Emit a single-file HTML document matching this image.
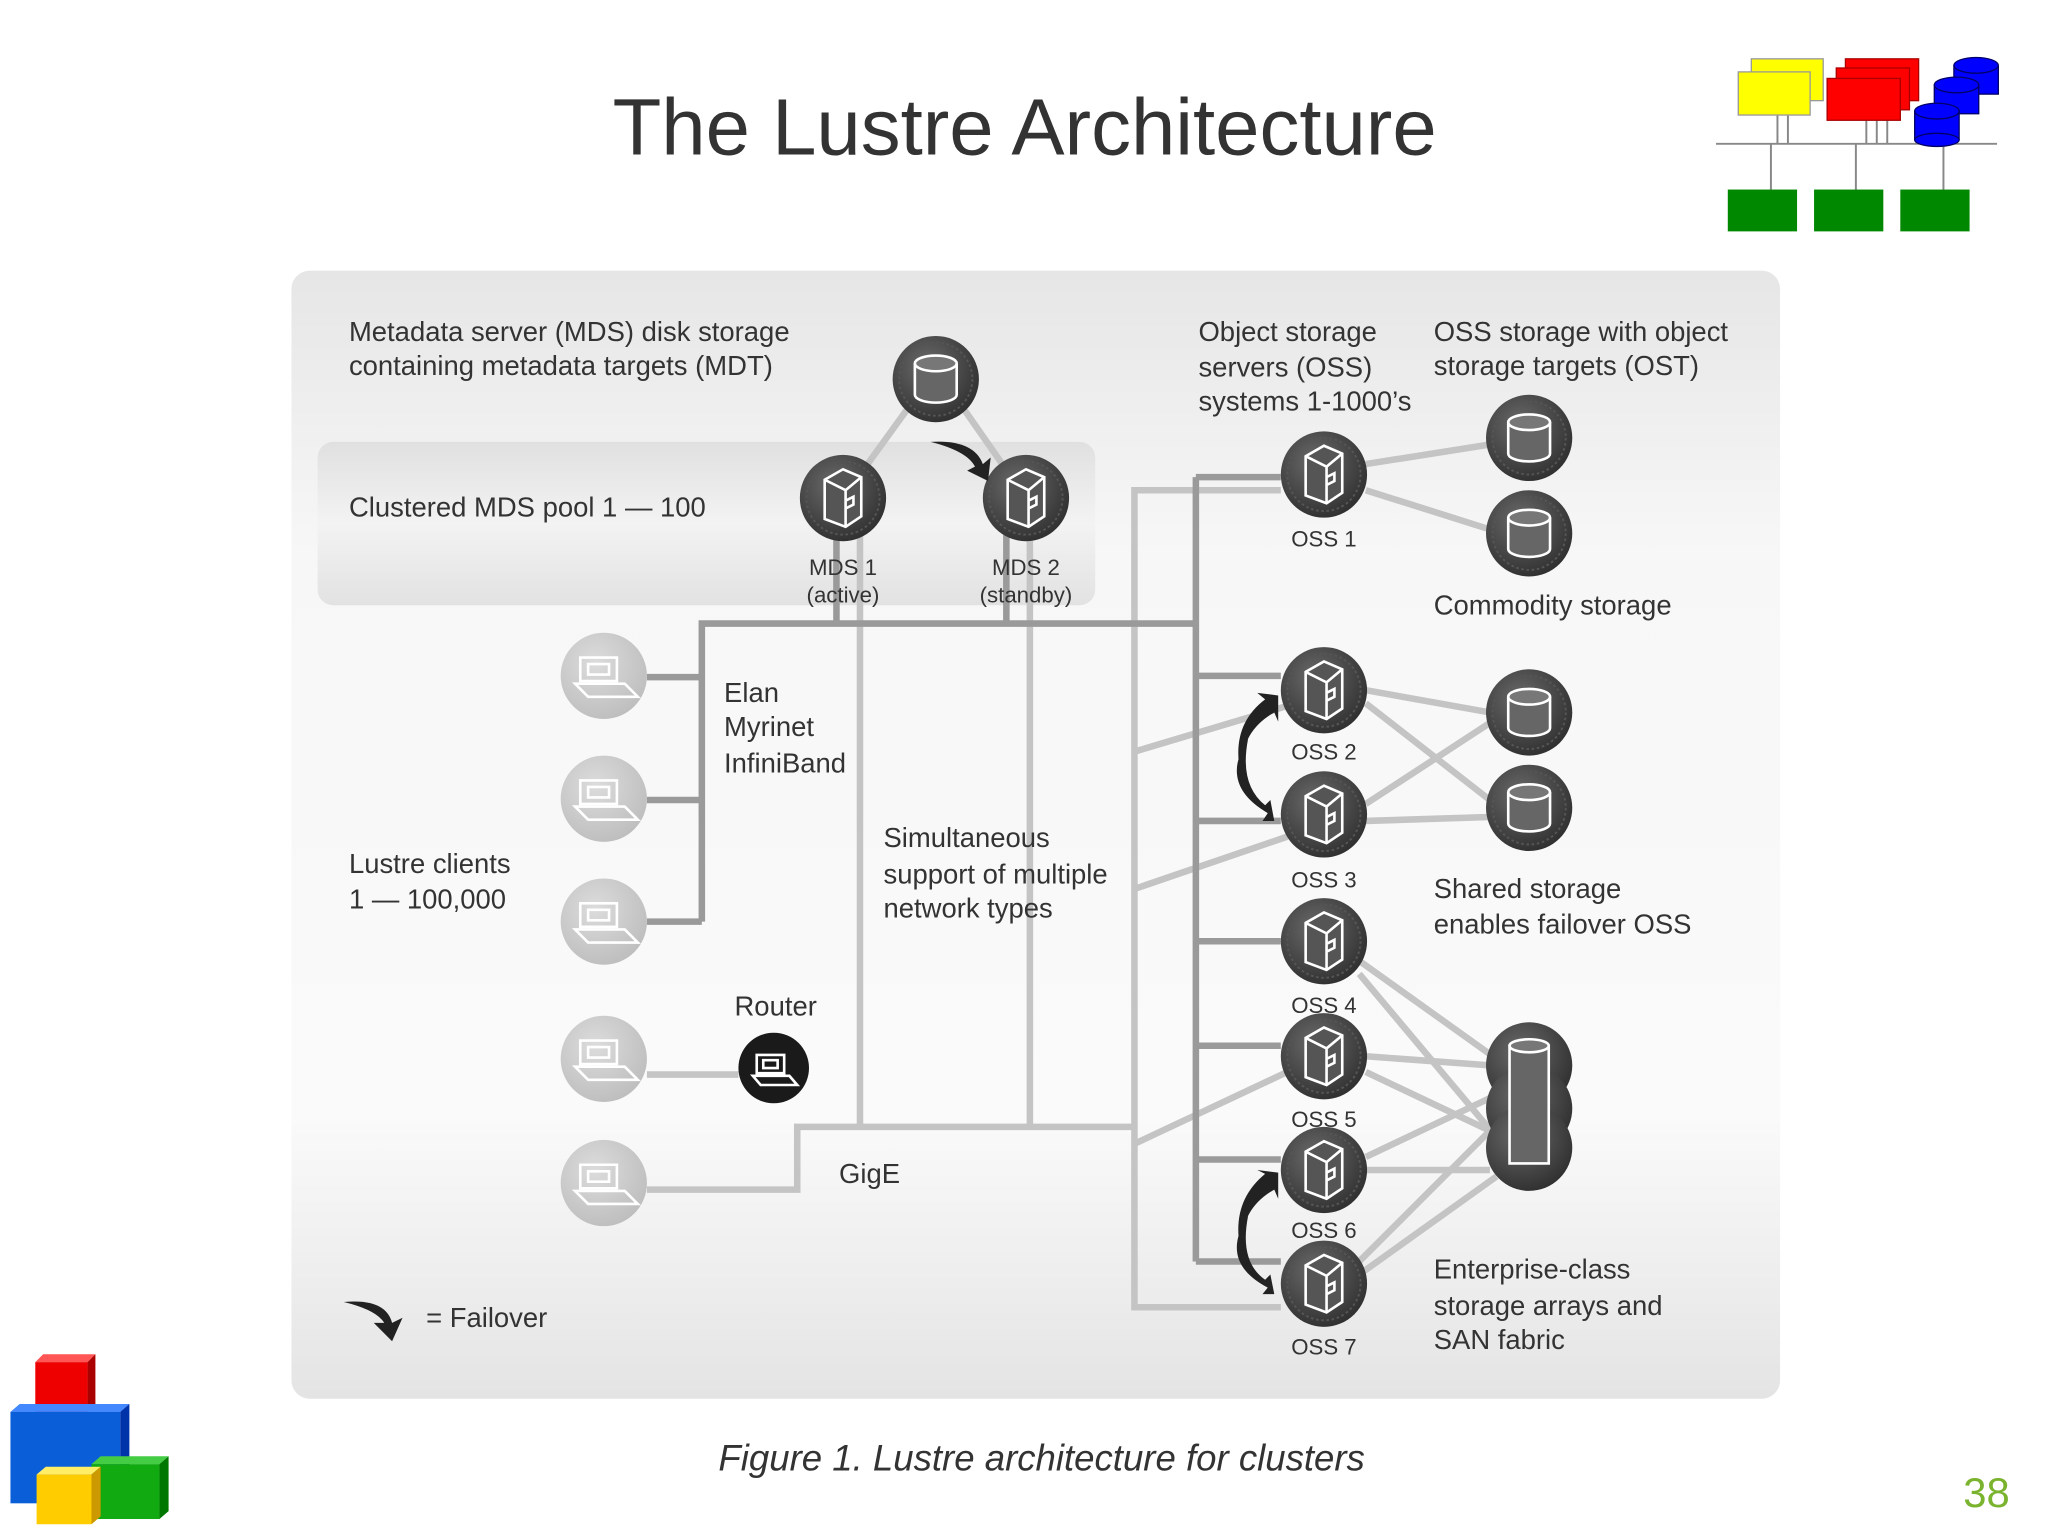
<!DOCTYPE html>
<html><head><meta charset="utf-8"><style>
html,body{margin:0;padding:0;background:#fff;}
svg{display:block;}
text{font-family:"Liberation Sans","DejaVu Sans",sans-serif;fill:#333;}
</style></head><body>
<svg width="2048" height="1536" viewBox="0 0 1567 1175" preserveAspectRatio="none" xmlns="http://www.w3.org/2000/svg">
<defs>
<linearGradient id="pg" x1="0" y1="0" x2="0" y2="1">
<stop offset="0" stop-color="#e6e6e6"/><stop offset="0.25" stop-color="#f7f7f7"/><stop offset="0.75" stop-color="#fafafa"/><stop offset="1" stop-color="#e4e4e4"/></linearGradient>
<linearGradient id="pool" x1="0" y1="0" x2="0" y2="1">
<stop offset="0" stop-color="#e0e0e0"/><stop offset="0.5" stop-color="#f3f3f3"/><stop offset="1" stop-color="#e2e2e2"/></linearGradient>
<radialGradient id="dk" cx="0.4" cy="0.35" r="0.7"><stop offset="0" stop-color="#6a6a6a"/><stop offset="1" stop-color="#2e2e2e"/></radialGradient>
<radialGradient id="lt" cx="0.4" cy="0.35" r="0.7"><stop offset="0" stop-color="#dcdcdc"/><stop offset="1" stop-color="#bdbdbd"/></radialGradient>
<g id="srv"><circle r="33" fill="url(#dk)"/><circle r="28" fill="none" stroke="#555" stroke-width="1.5" stroke-dasharray="2 2"/>
<path d="M-14,-14 L0,-22 L14,-16 L14,14 L2,22 L-14,16 Z" fill="#555" stroke="#fff" stroke-width="2"/>
<path d="M-14,-14 L2,-6 L14,-16 M2,-6 L2,22 M2,2 L8,-1 L8,5 L2,8" fill="none" stroke="#fff" stroke-width="2"/></g>
<g id="dsk"><circle r="33" fill="url(#dk)"/><circle r="28" fill="none" stroke="#555" stroke-width="1.5" stroke-dasharray="2 2"/>
<path d="M-16,-12 L-16,12 A16,6 0 0 0 16,12 L16,-12" fill="#666" stroke="#fff" stroke-width="2"/>
<ellipse cx="0" cy="-12" rx="16" ry="6" fill="#777" stroke="#fff" stroke-width="2"/></g>
<g id="cli"><circle r="33" fill="url(#lt)"/>
<path d="M-18,-14 H10 V4 H-18 Z M-12,-9 H4 V-1 H-12 Z" fill="none" stroke="#fff" stroke-width="2"/>
<path d="M-22,6 H16 L26,16 H-12 Z" fill="none" stroke="#fff" stroke-width="2"/></g>
</defs>

<text x="784" y="118" text-anchor="middle" font-size="61" fill="#333">The Lustre Architecture</text>

<!-- top-right logo -->
<g stroke="#888" stroke-width="1.5" fill="none">
<line x1="1313" y1="110" x2="1528" y2="110"/>
<line x1="1355" y1="110" x2="1355" y2="145"/><line x1="1420" y1="110" x2="1420" y2="145"/><line x1="1487" y1="110" x2="1487" y2="145"/>
<line x1="1360" y1="88" x2="1360" y2="110"/><line x1="1368" y1="88" x2="1368" y2="110"/>
<line x1="1428" y1="92" x2="1428" y2="110"/><line x1="1436" y1="92" x2="1436" y2="110"/><line x1="1444" y1="92" x2="1444" y2="110"/>
</g>
<rect x="1340" y="45" width="55" height="32" fill="#ff0" stroke="#999"/>
<rect x="1330" y="55" width="55" height="33" fill="#ff0" stroke="#999"/>
<rect x="1412" y="45" width="56" height="32" fill="#f00" stroke="#a00"/>
<rect x="1405" y="52" width="56" height="32" fill="#f00" stroke="#a00"/>
<rect x="1398" y="60" width="56" height="32" fill="#f00" stroke="#a00"/>
<g fill="#00f" stroke="#006"><rect x="1495" y="50" width="34" height="22"/><ellipse cx="1512" cy="50" rx="17" ry="6"/>
<rect x="1480" y="65" width="34" height="22"/><ellipse cx="1497" cy="65" rx="17" ry="6"/>
<rect x="1465" y="85" width="34" height="22"/><ellipse cx="1482" cy="85" rx="17" ry="6"/><ellipse cx="1482" cy="107" rx="17" ry="5"/></g>
<rect x="1322" y="145" width="53" height="32" fill="#080"/>
<rect x="1388" y="145" width="53" height="32" fill="#080"/>
<rect x="1454" y="145" width="53" height="32" fill="#080"/>

<!-- panel -->
<rect x="223" y="207" width="1139" height="863" rx="14" fill="url(#pg)"/>
<rect x="243" y="338" width="595" height="125" rx="12" fill="url(#pool)"/>

<!-- light lines -->
<g stroke="#c4c4c4" stroke-width="5" fill="none">
<line x1="700" y1="305" x2="645" y2="381"/><line x1="732" y1="305" x2="785" y2="381"/>
<line x1="658" y1="395" x2="658" y2="862"/><line x1="788" y1="395" x2="788" y2="862"/>
<polyline points="495,910 610,910 610,862 868,862"/>
<line x1="495" y1="822" x2="565" y2="822"/>
<polyline points="980,375 868,375 868,1000 980,1000"/>
<line x1="868" y1="575" x2="985" y2="540"/><line x1="868" y1="680" x2="985" y2="640"/>
<line x1="868" y1="875" x2="985" y2="820"/>
<line x1="1045" y1="355" x2="1140" y2="340"/><line x1="1045" y1="375" x2="1140" y2="405"/>
<line x1="1045" y1="528" x2="1140" y2="545"/><line x1="1045" y1="538" x2="1140" y2="612"/>
<line x1="1045" y1="615" x2="1140" y2="553"/><line x1="1045" y1="628" x2="1140" y2="625"/>
<line x1="1040" y1="735" x2="1145" y2="810"/><line x1="1040" y1="745" x2="1145" y2="870"/>
<line x1="1045" y1="808" x2="1140" y2="815"/><line x1="1045" y1="820" x2="1140" y2="865"/>
<line x1="1045" y1="885" x2="1140" y2="840"/><line x1="1045" y1="895" x2="1140" y2="895"/>
<line x1="1040" y1="965" x2="1145" y2="860"/><line x1="1040" y1="975" x2="1145" y2="900"/>
</g>
<!-- dark lines -->
<g stroke="#9a9a9a" stroke-width="5" fill="none">
<polyline points="495,518 537,518"/><polyline points="495,612 537,612"/><polyline points="495,705 537,705"/>
<polyline points="537,705 537,477 915,477"/>
<line x1="640" y1="400" x2="640" y2="477"/><line x1="770" y1="400" x2="770" y2="477"/>
<line x1="915" y1="365" x2="915" y2="965"/>
<line x1="915" y1="365" x2="980" y2="365"/><line x1="915" y1="517" x2="980" y2="517"/>
<line x1="915" y1="628" x2="980" y2="628"/><line x1="915" y1="720" x2="980" y2="720"/>
<line x1="915" y1="800" x2="980" y2="800"/><line x1="915" y1="887" x2="980" y2="887"/>
<line x1="915" y1="965" x2="980" y2="965"/>
</g>

<!-- nodes -->
<use href="#dsk" x="716" y="290"/>
<use href="#srv" x="645" y="381"/><use href="#srv" x="785" y="381"/>
<use href="#srv" x="1013" y="363"/><use href="#srv" x="1013" y="528"/><use href="#srv" x="1013" y="623"/>
<use href="#srv" x="1013" y="720"/><use href="#srv" x="1013" y="808"/><use href="#srv" x="1013" y="895"/><use href="#srv" x="1013" y="982"/>
<use href="#dsk" x="1170" y="335"/><use href="#dsk" x="1170" y="408"/><use href="#dsk" x="1170" y="545"/><use href="#dsk" x="1170" y="618"/>
<g><circle cx="1170" cy="815" r="33" fill="url(#dk)"/><circle cx="1170" cy="848" r="33" fill="url(#dk)"/><circle cx="1170" cy="878" r="33" fill="url(#dk)"/>
<rect x="1155" y="800" width="30" height="90" fill="#666" stroke="#fff" stroke-width="2"/><ellipse cx="1170" cy="800" rx="15" ry="5" fill="#777" stroke="#fff" stroke-width="2"/></g>
<use href="#cli" x="462" y="517"/><use href="#cli" x="462" y="611"/><use href="#cli" x="462" y="705"/><use href="#cli" x="462" y="810"/><use href="#cli" x="462" y="905"/>
<circle cx="592" cy="817" r="27" fill="#1a1a1a"/>
<path d="M-13,-10 H8 V4 H-13 Z M-8,-6 H3 V0 H-8 Z M-16,6 H12 L18,13 H-10 Z" transform="translate(592,817)" fill="none" stroke="#fff" stroke-width="2"/>

<!-- failover arrows -->
<g fill="#222">
<path d="M712,338 Q745,336 752,355 L758,350 L756,368 L740,360 L746,357 Q740,345 712,338 Z"/>
<path d="M968,535 Q935,560 955,610 Q940,565 975,545 L978,552 L978,532 L962,530 Z"/>
<path d="M955,565 Q932,600 970,622 L966,628 L975,628 L972,612 L968,616 Q948,600 955,565 Z"/>
<path d="M968,898 Q935,925 955,975 Q940,930 975,910 L978,917 L978,897 L962,895 Z"/>
<path d="M955,930 Q932,965 970,985 L966,990 L975,990 L972,975 L968,979 Q948,965 955,930 Z"/>
<path d="M263,996 Q295,993 300,1012 L308,1008 L300,1026 L286,1012 L294,1012 Q288,1002 263,996 Z"/>
</g>

<!-- labels -->
<g font-size="21">
<text x="267" y="261">Metadata server (MDS) disk storage</text>
<text x="267" y="287">containing metadata targets (MDT)</text>
<text x="267" y="395">Clustered MDS pool 1 — 100</text>
<text x="917" y="261">Object storage</text><text x="917" y="288">servers (OSS)</text><text x="917" y="314">systems 1-1000’s</text>
<text x="1097" y="261">OSS storage with object</text><text x="1097" y="287">storage targets (OST)</text>
<text x="1097" y="470">Commodity storage</text>
<text x="554" y="537">Elan</text><text x="554" y="563">Myrinet</text><text x="554" y="591">InfiniBand</text>
<text x="676" y="648">Simultaneous</text><text x="676" y="676">support of multiple</text><text x="676" y="702">network types</text>
<text x="267" y="668">Lustre clients</text><text x="267" y="695">1 — 100,000</text>
<text x="562" y="777">Router</text>
<text x="642" y="905">GigE</text>
<text x="1097" y="687">Shared storage</text><text x="1097" y="714">enables failover OSS</text>
<text x="1097" y="978">Enterprise-class</text><text x="1097" y="1006">storage arrays and</text><text x="1097" y="1032">SAN fabric</text>
<text x="326" y="1015">= Failover</text>
</g>
<g font-size="17" text-anchor="middle">
<text x="645" y="440">MDS 1</text><text x="645" y="461">(active)</text>
<text x="785" y="440">MDS 2</text><text x="785" y="461">(standby)</text>
<text x="1013" y="418">OSS 1</text><text x="1013" y="581">OSS 2</text><text x="1013" y="679">OSS 3</text>
<text x="1013" y="775">OSS 4</text><text x="1013" y="862">OSS 5</text><text x="1013" y="947">OSS 6</text><text x="1013" y="1036">OSS 7</text>
</g>
<text x="797" y="1125" text-anchor="middle" font-size="28" font-style="italic">Figure 1. Lustre architecture for clusters</text>

<!-- bottom-left cubes -->
<polygon points="27,1042 67,1042 73,1036 33,1036" fill="#f55"/><rect x="27" y="1042" width="40" height="38" fill="#e00"/><polygon points="67,1042 73,1036 73,1074 67,1080" fill="#a00"/>
<polygon points="8,1080 92,1080 99,1074 15,1074" fill="#48f"/><rect x="8" y="1080" width="84" height="70" fill="#0a5fd8"/><polygon points="92,1080 99,1074 99,1144 92,1150" fill="#03a"/>
<rect x="70" y="1120" width="52" height="42" fill="#1a1"/><polygon points="70,1120 122,1120 129,1114 77,1114" fill="#4c4"/><polygon points="122,1120 129,1114 129,1156 122,1162" fill="#070"/>
<rect x="28" y="1128" width="42" height="38" fill="#fc0"/><polygon points="28,1128 70,1128 77,1122 35,1122" fill="#fe6"/><polygon points="70,1128 77,1122 77,1160 70,1166" fill="#c90"/>

<text x="1520" y="1153" text-anchor="middle" font-size="32" style="fill:#7ab32e">38</text>
</svg>
</body></html>
